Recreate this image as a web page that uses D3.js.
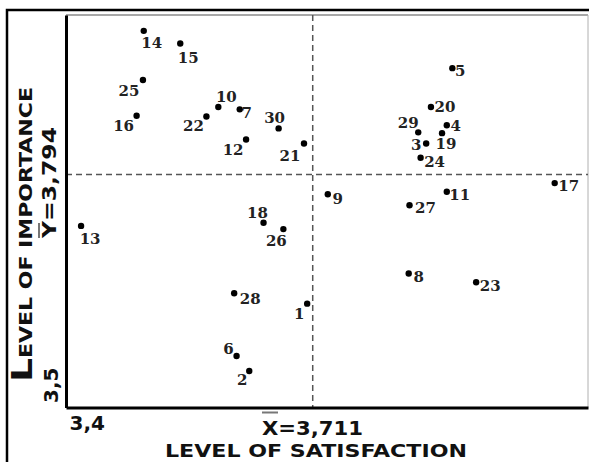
<!DOCTYPE html>
<html>
<head>
<meta charset="utf-8">
<script src="https://cdn.jsdelivr.net/npm/d3@7"></script>
<style>
  html, body { margin: 0; padding: 0; background: #fff; }
  svg { display: block; }
</style>
</head>
<body>
<svg id="chart" width="589" height="462"></svg>
<script>
// ---- data ----
const items = [1,2,3,4,5,6,7,8,9,10,11,12,13,14,15,16,17,18,19,20,21,22,23,24,25,26,27,28,29,30];
const satisfaction = [3.704,3.631,3.854,3.880,3.887,3.615,3.619,3.832,3.730,3.592,3.880,3.627,3.419,3.498,3.544,3.489,4.016,3.649,3.874,3.860,3.700,3.577,3.917,3.847,3.497,3.674,3.833,3.612,3.844,3.668];
const importance   = [3.631,3.546,3.833,3.856,3.928,3.565,3.876,3.669,3.769,3.879,3.772,3.838,3.729,3.975,3.959,3.868,3.783,3.733,3.846,3.879,3.833,3.867,3.658,3.815,3.913,3.725,3.755,3.644,3.847,3.852];
const xTickValues = [3.4];
const yTickValues = [3.5];
const meanSatisfaction = 3.711;
const meanImportance = 3.794;
const xDomain = [3.4, 4.058];
const yDomain = [3.5, 3.995];

// ---- label placement (style, in px) ----
const labelOffsets = {
  1:[-8,10], 2:[-7,9], 3:[-10,2], 4:[9,1], 5:[8,3], 6:[-8,-7], 7:[7,4], 8:[10,4], 9:[10,5], 10:[8,-10],
  11:[13,3], 12:[-13,11], 13:[9,13], 14:[8,12], 15:[8,14], 16:[-13,10], 17:[14,3], 18:[-6,-10], 19:[4,11], 20:[14,0],
  21:[-14,13], 22:[-13,10], 23:[14,4], 24:[14,4], 25:[-14,11], 26:[-7,12], 27:[16,3], 28:[16,6], 29:[-10,-9], 30:[-4,-10]
};

const svg = d3.select("#chart");
const L = 66, R = 588, T = 15, B = 407.5;
const x = d3.scaleLinear().domain(xDomain).range([L, R]);
const y = d3.scaleLinear().domain(yDomain).range([B, T]);
const fmt = d => String(d).replace(".", ",");
const SANS = "DejaVu Sans, Verdana, sans-serif";

// outer frame
svg.append("rect").attr("x", 7).attr("y", 10).attr("width", 600).attr("height", 470)
  .attr("fill", "none").attr("stroke", "#000").attr("stroke-width", 2.5);

// light top / right frame of plot
svg.append("line").attr("x1", L).attr("x2", R).attr("y1", T).attr("y2", T)
  .attr("stroke", "#8a8a8a").attr("stroke-width", 1.5);
svg.append("line").attr("x1", R).attr("x2", R).attr("y1", T).attr("y2", B)
  .attr("stroke", "#b0b0b0").attr("stroke-width", 1);

// mean lines
svg.append("line").attr("x1", x(meanSatisfaction)).attr("x2", x(meanSatisfaction))
  .attr("y1", T).attr("y2", B)
  .attr("stroke", "#555").attr("stroke-width", 1.5).attr("stroke-dasharray", "6,4");
svg.append("line").attr("x1", L).attr("x2", R)
  .attr("y1", y(meanImportance)).attr("y2", y(meanImportance))
  .attr("stroke", "#555").attr("stroke-width", 1.5).attr("stroke-dasharray", "6,4");

// axes
const xAxis = d3.axisBottom(x).tickValues(xTickValues).tickSize(0).tickSizeOuter(0).tickFormat(fmt);
const gx = svg.append("g").attr("transform", `translate(0,${B})`).call(xAxis);
gx.select(".domain").attr("stroke", "#000").attr("stroke-width", 3);
gx.selectAll(".tick text")
  .attr("font-family", SANS).attr("font-weight", "bold")
  .attr("font-size", 20).attr("fill", "#111").attr("text-anchor", "start")
  .attr("dx", 3).attr("y", 22).attr("dy", 0);

const yAxis = d3.axisLeft(y).tickValues(yTickValues).tickSize(0).tickSizeOuter(0).tickFormat(fmt);
const gy = svg.append("g").attr("transform", `translate(${L},0)`).call(yAxis);
gy.select(".domain").attr("stroke", "#000").attr("stroke-width", 3);
gy.selectAll(".tick text")
  .attr("font-family", SANS).attr("font-weight", "bold")
  .attr("font-size", 20).attr("fill", "#111").attr("text-anchor", "start")
  .attr("x", 0).attr("dy", 0)
  .attr("transform", "translate(-8,-5) rotate(-90)");

// mean labels
svg.append("text").attr("x", 262).attr("y", 434.5)
  .attr("font-family", SANS).attr("font-weight", "bold")
  .attr("font-size", 20).attr("fill", "#111")
  .attr("textLength", 101).attr("lengthAdjust", "spacingAndGlyphs")
  .text("X=" + fmt(meanSatisfaction));
svg.append("line").attr("x1", 262).attr("x2", 278).attr("y1", 412.5).attr("y2", 412.5)
  .attr("stroke", "#777").attr("stroke-width", 2);

svg.append("text").attr("transform", "translate(56,238) rotate(-90)")
  .attr("font-family", SANS).attr("font-weight", "bold")
  .attr("font-size", 19).attr("fill", "#111")
  .attr("textLength", 111).attr("lengthAdjust", "spacingAndGlyphs")
  .text("Y=" + fmt(meanImportance));
svg.append("line").attr("x1", 39).attr("x2", 39).attr("y1", 238).attr("y2", 223)
  .attr("stroke", "#777").attr("stroke-width", 2);

// axis titles
svg.append("text").attr("x", 165).attr("y", 457)
  .attr("font-family", SANS).attr("font-weight", "bold")
  .attr("font-size", 18).attr("fill", "#111")
  .attr("textLength", 302).attr("lengthAdjust", "spacingAndGlyphs")
  .text("LEVEL OF SATISFACTION");

const yt = svg.append("text").attr("transform", "translate(32,382) rotate(-90)")
  .attr("font-family", SANS).attr("font-weight", "bold")
  .attr("fill", "#111")
  .attr("textLength", 295).attr("lengthAdjust", "spacingAndGlyphs");
yt.append("tspan").attr("font-size", 29).text("L");
yt.append("tspan").attr("font-size", 17).text("EVEL OF IMPORTANCE");

// points
const pts = items.map((id, i) => ({id, sx: satisfaction[i], im: importance[i]}));
svg.append("g").selectAll("circle").data(pts).join("circle")
  .attr("cx", d => x(d.sx)).attr("cy", d => y(d.im)).attr("r", 3.2).attr("fill", "#000");

svg.append("g").selectAll("text").data(pts).join("text")
  .attr("x", d => x(d.sx) + labelOffsets[d.id][0])
  .attr("y", d => y(d.im) + labelOffsets[d.id][1])
  .attr("text-anchor", "middle").attr("dominant-baseline", "central")
  .attr("font-family", "DejaVu Serif, Liberation Serif, serif").attr("font-weight", "bold")
  .attr("font-size", 15).attr("fill", "#222")
  .text(d => d.id);
</script>
</body>
</html>
